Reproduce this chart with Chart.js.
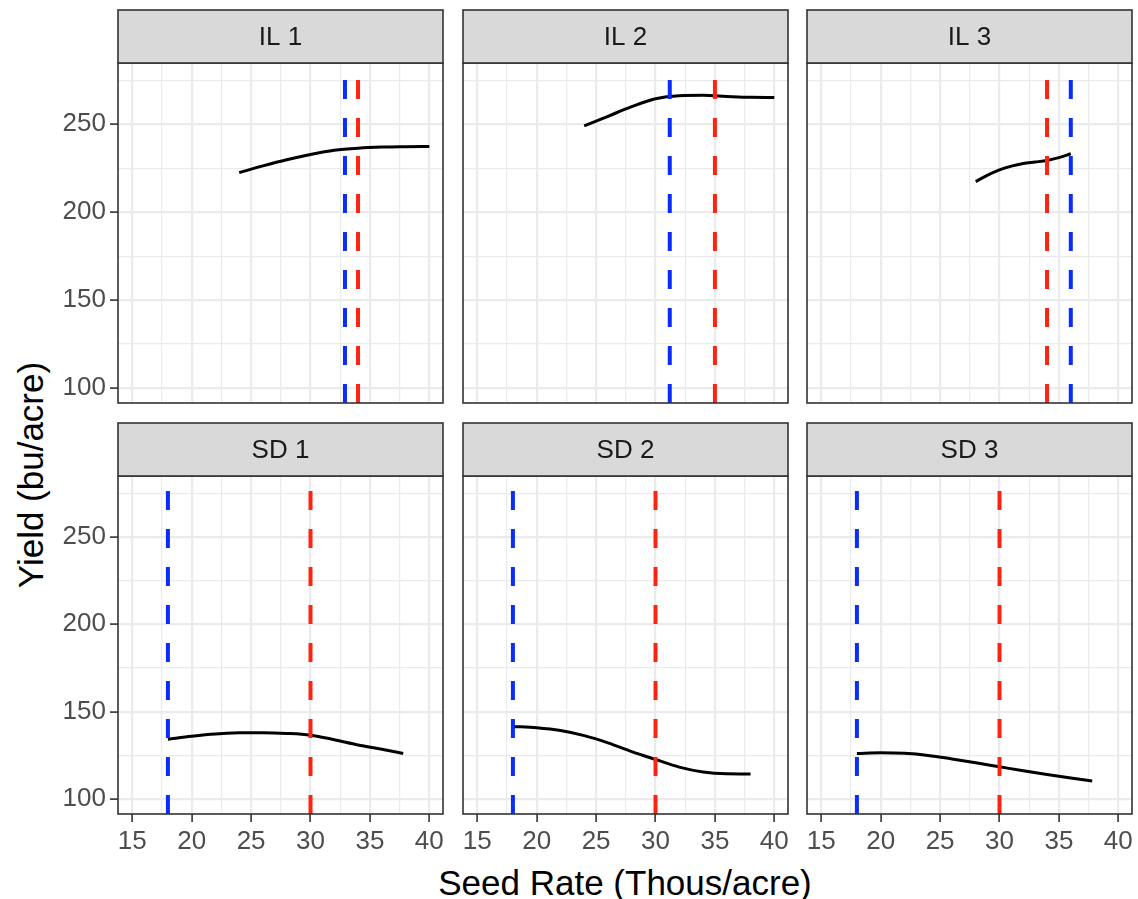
<!DOCTYPE html>
<html><head><meta charset="utf-8">
<script src="https://cdn.jsdelivr.net/npm/chart.js@4.4.1/dist/chart.umd.min.js"></script>
<style>
html,body{margin:0;padding:0;background:#fff;}
#wrap{position:relative;width:1138px;height:899px;overflow:hidden;background:#fff;font-family:'Liberation Sans',Arial,Helvetica,sans-serif;}
#wrap canvas{position:absolute;}
.ttl{position:absolute;color:#000;font-size:35px;white-space:nowrap;line-height:1;}
#xt{left:625px;top:882px;transform:translate(-50%,-50%);}
#yt{left:30px;top:475px;transform:translate(-50%,-50%) rotate(-90deg);}
</style></head><body>
<div id="wrap">
<div class="ttl" id="xt">Seed Rate (Thous/acre)</div>
<div class="ttl" id="yt">Yield (bu/acre)</div>
</div>
<script>
// ---------- data ----------
const panelNames = ['IL 1', 'IL 2', 'IL 3', 'SD 1', 'SD 2', 'SD 3'];

const il1Rate  = [24, 26, 28, 30, 32, 34, 36, 38, 40];
const il1Yield = [222.5, 226.3, 229.8, 232.8, 235.2, 236.4, 237.0, 237.2, 237.3];

const il2Rate  = [24, 26, 28, 30, 32, 34, 36, 38, 40];
const il2Yield = [249.0, 254.5, 260.0, 264.5, 266.2, 266.4, 265.8, 265.3, 265.2];

const il3Rate  = [28, 29, 30, 31, 32, 33, 34, 35, 36];
const il3Yield = [217.4, 221.0, 224.0, 226.2, 227.7, 228.5, 229.4, 231.0, 233.2];

const sd1Rate  = [18, 20, 22, 24, 26, 28, 30, 32, 34, 36, 37.8];
const sd1Yield = [134.3, 136.0, 137.3, 137.9, 138.0, 137.6, 136.6, 134.0, 131.0, 128.5, 126.1];

const sd2Rate  = [18, 20, 22, 24, 26, 28, 30, 32, 34, 36, 38];
const sd2Yield = [141.6, 140.8, 139.2, 136.3, 132.2, 127.2, 122.7, 118.3, 115.5, 114.5, 114.4];

const sd3Rate  = [18, 20, 22, 24, 26, 28, 30, 32, 34, 36, 37.8];
const sd3Yield = [126.1, 126.5, 126.2, 125.0, 123.0, 120.8, 118.5, 116.2, 114.1, 112.1, 110.4];

const blueRate = [32.9, 31.2, 36, 18, 18, 18];   // blue dashed vertical lines
const redRate  = [34, 35, 34, 30, 30, 30];       // red dashed vertical lines

const xTickVals  = [15, 20, 25, 30, 35, 40];
const xMinorVals = [17.5, 22.5, 27.5, 32.5, 37.5];
const yTickVals  = [100, 150, 200, 250];
const yMinorVals = [125, 175, 225, 275];
const xRange = [13.8, 41.15];
const yRange = [91.5, 284.8];

const curveRates  = [il1Rate, il2Rate, il3Rate, sd1Rate, sd2Rate, sd3Rate];
const curveYields = [il1Yield, il2Yield, il3Yield, sd1Yield, sd2Yield, sd3Yield];

// ---------- layout ----------
const FONT = "'Liberation Sans', Arial, Helvetica, sans-serif";
Chart.defaults.font.family = FONT;
const PL = [118, 463, 807];
const PW = 325;
const ST = [10, 423];
const SH = 53;
const PB = [403, 814];
const BLUE = '#0a2dff';
const RED = '#ff2312';

const facetPlugin = {
  id: 'facet',
  afterDraw(chart, args, opts) {
    const ctx = chart.ctx, a = chart.chartArea;
    ctx.save();
    ctx.strokeStyle = '#333333';
    ctx.lineWidth = 1.6;
    ctx.strokeRect(a.left, a.top, a.right - a.left, a.bottom - a.top);
    ctx.fillStyle = '#d9d9d9';
    ctx.fillRect(a.left, a.top - SH, a.right - a.left, SH);
    ctx.strokeRect(a.left, a.top - SH, a.right - a.left, SH);
    ctx.fillStyle = '#1a1a1a';
    ctx.font = '26px ' + FONT;
    ctx.textAlign = 'center';
    ctx.textBaseline = 'middle';
    ctx.fillText(opts.label, (a.left + a.right) / 2, a.top - SH / 2 + 1);
    ctx.restore();
  }
};

const wrap = document.getElementById('wrap');
const isMajorX = v => xTickVals.includes(v);
const isMajorY = v => yTickVals.includes(v);

for (let i = 0; i < 6; i++) {
  const r = Math.floor(i / 3), c = i % 3;
  const leftExtra = c === 0 ? 118 : 20;
  const rightExtra = 20;
  const bottomExtra = r === 1 ? 50 : 20;
  const topPad = 3;
  const cv = document.createElement('canvas');
  const W = leftExtra + PW + rightExtra;
  const H = (PB[r] - ST[r]) + bottomExtra + topPad;
  cv.width = W; cv.height = H;
  cv.style.width = W + 'px'; cv.style.height = H + 'px';
  cv.style.left = (PL[c] - leftExtra) + 'px';
  cv.style.top = (ST[r] - topPad) + 'px';
  wrap.appendChild(cv);

  const showX = r === 1, showY = c === 0;

  new Chart(cv, {
    type: 'line',
    data: {
      datasets: [
        { data: [{x: redRate[i], y: yRange[0]}, {x: redRate[i], y: yRange[1]}],
          borderColor: RED, borderWidth: 4, borderDash: [19, 19], borderCapStyle: 'butt',
          pointRadius: 0, order: 0 },
        { data: [{x: blueRate[i], y: yRange[0]}, {x: blueRate[i], y: yRange[1]}],
          borderColor: BLUE, borderWidth: 4, borderDash: [19, 19], borderCapStyle: 'butt',
          pointRadius: 0, order: 1 },
        { data: curveRates[i].map((x, k) => ({x: x, y: curveYields[i][k]})),
          borderColor: '#000000', borderWidth: 3, pointRadius: 0,
          cubicInterpolationMode: 'monotone', order: 2 }
      ]
    },
    options: {
      responsive: false,
      animation: false,
      devicePixelRatio: 1,
      layout: { padding: { left: c === 0 ? 0 : leftExtra, right: rightExtra, top: SH + topPad, bottom: 0 } },
      plugins: { legend: { display: false }, tooltip: { enabled: false }, title: { display: false },
                 facet: { label: panelNames[i] } },
      scales: {
        x: {
          type: 'linear', min: xRange[0], max: xRange[1],
          afterBuildTicks: s => { s.ticks = xTickVals.concat(xMinorVals).sort((a, b) => a - b).map(v => ({value: v})); },
          afterFit: s => { s.height = bottomExtra; },
          border: { display: false },
          grid: {
            color: '#ebebeb',
            lineWidth: ctx => (ctx.tick && isMajorX(ctx.tick.value)) ? 2.2 : 1.2,
            drawTicks: showX, tickLength: 8, tickWidth: 1.6,
            tickColor: ctx => (ctx.tick && isMajorX(ctx.tick.value)) ? '#333333' : 'rgba(0,0,0,0)'
          },
          ticks: {
            display: showX, autoSkip: false, maxRotation: 0, minRotation: 0, padding: 4,
            color: '#4d4d4d', font: { size: 26, family: FONT },
            callback: v => isMajorX(v) ? String(v) : ''
          }
        },
        y: {
          type: 'linear', min: yRange[0], max: yRange[1],
          afterBuildTicks: s => { s.ticks = yTickVals.concat(yMinorVals).sort((a, b) => a - b).map(v => ({value: v})); },
          afterFit: s => { s.width = c === 0 ? 118 : 0; },
          border: { display: false },
          grid: {
            color: '#ebebeb',
            lineWidth: ctx => (ctx.tick && isMajorY(ctx.tick.value)) ? 2.2 : 1.2,
            drawTicks: showY, tickLength: 8, tickWidth: 1.6,
            tickColor: ctx => (ctx.tick && isMajorY(ctx.tick.value)) ? '#333333' : 'rgba(0,0,0,0)'
          },
          ticks: {
            display: showY, autoSkip: false, padding: 4,
            color: '#4d4d4d', font: { size: 26, family: FONT },
            callback: v => isMajorY(v) ? String(v) : ''
          }
        }
      }
    },
    plugins: [facetPlugin]
  });
}
</script>
</body></html>
